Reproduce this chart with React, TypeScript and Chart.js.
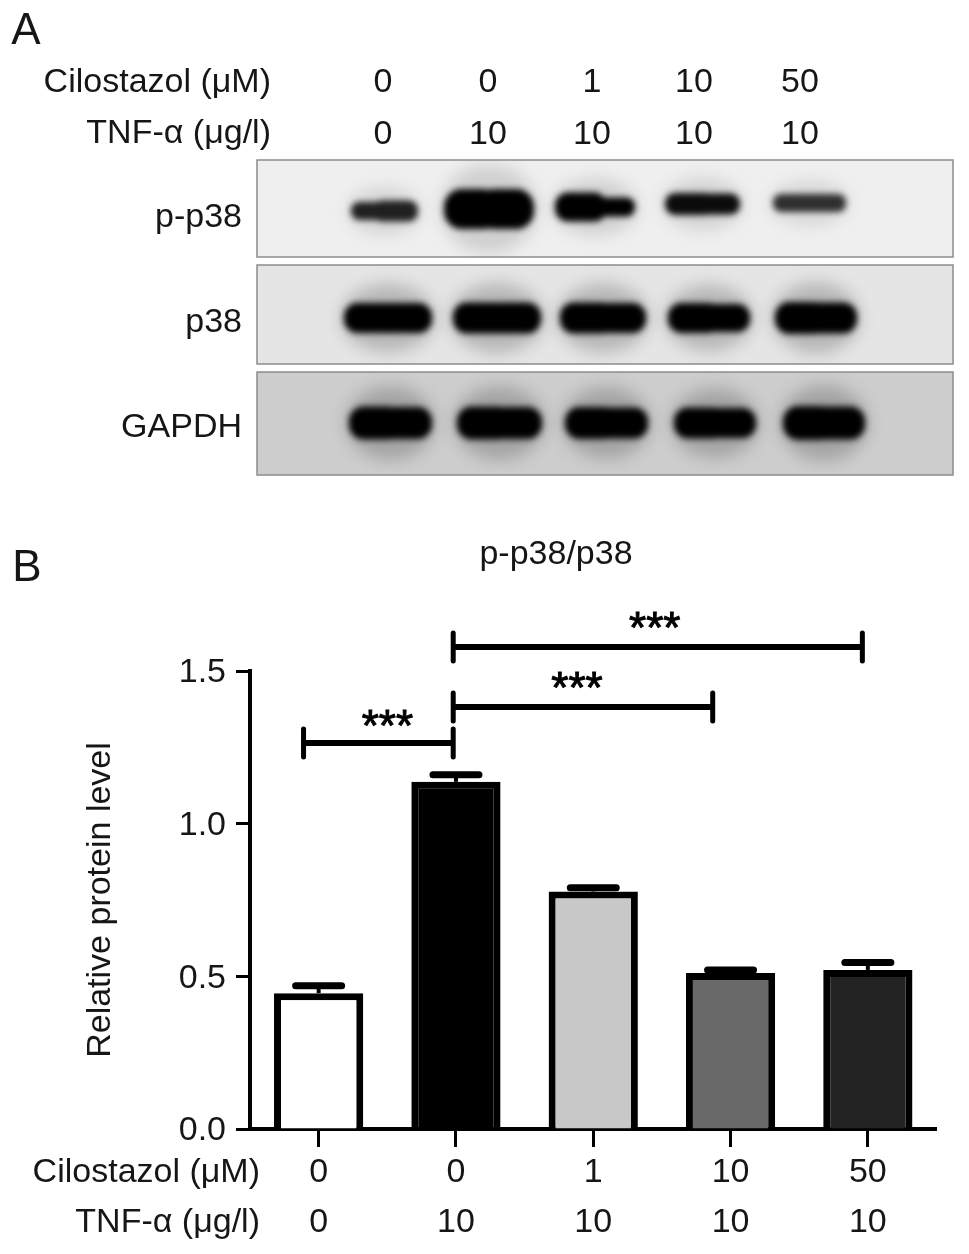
import React, { useEffect, useRef } from "react";
import { Chart, registerables } from "chart.js";

Chart.register(...registerables);

const FONT = '"Liberation Sans", Arial, sans-serif';
const INK = "#161616";
const SIZE = 34;

// Bar chart data
const cilostazol = ["0", "0", "1", "10", "50"];
const tnf = ["0", "10", "10", "10", "10"];
const means = [0.445, 1.137, 0.778, 0.511, 0.521];
const errors = [0.024, 0.023, 0.012, 0.01, 0.024];
const barColors = ["#ffffff", "#000000", "#c8c8c8", "#696969", "#222222"];
const yTicks = [0, 0.5, 1, 1.5];

// Significance brackets: from / to (category position), height (axis value)
const bracketFrom = [-0.11, 0.98, 0.98];
const bracketTo = [0.98, 2.87, 3.96];
const bracketLevel = [1.264, 1.382, 1.579];
const starShift = [9, -6, -3];
const starDrop = [-2, -4, -4];

// Blot panel contents
const blotNames = ["p-p38", "p38", "GAPDH"];
const blotBackground = ["#efefef", "#e5e5e5", "#cdcdcd"];
// band thickness at the left and right half of each lane
const bandLeft = [
  [18, 40, 29, 22, 18],
  [30, 31, 31, 30, 32],
  [33, 33, 32, 31, 34],
];
const bandRight = [
  [21, 40, 19, 21, 18],
  [30, 31, 30, 28, 31],
  [32, 32, 31, 30, 33],
];
const bandDarkness = [
  [0.85, 1, 1, 0.95, 0.78],
  [1, 1, 1, 1, 1],
  [1, 1, 1, 1, 1],
];
const haloDarkness = [0.13, 0.2, 0.2];

// Layout of panel A (not data)
const panelTop = [160, 265, 372];
const panelBottom = [257, 364, 475];
const labelDrop = [9, 8, 4];
const bandCentreY = [211, 318, 423];
const bandRise = [0, 2, 4, 7, 8];
const bandSpan = [
  [[351, 418], [444, 534], [555, 635], [665, 740], [773, 846]],
  [[344, 432], [453, 541], [560, 646], [668, 750], [775, 857]],
  [[349, 432], [457, 542], [565, 648], [674, 756], [783, 865]],
];
const headerX = [383, 488, 592, 694, 800];

const text = (
  ctx: CanvasRenderingContext2D,
  s: string,
  x: number,
  y: number,
  size: number,
  align: CanvasTextAlign = "center"
) => {
  ctx.font = `${size}px ${FONT}`;
  ctx.fillStyle = INK;
  ctx.textAlign = align;
  ctx.textBaseline = "middle";
  ctx.fillText(s, x, y);
};

const blotPlugin = {
  id: "blot",
  beforeDraw(chart: Chart) {
    const ctx = chart.ctx;
    ctx.save();
    text(ctx, "A", 26, 32, 44);
    text(ctx, "B", 27, 569, 44);
    text(ctx, "Cilostazol (μM)", 271, 83, SIZE, "right");
    text(ctx, "TNF-α (μg/l)", 271, 134, SIZE, "right");
    cilostazol.forEach((s, i) => text(ctx, s, headerX[i], 83, SIZE));
    tnf.forEach((s, i) => text(ctx, s, headerX[i], 135, SIZE));
    text(ctx, "p-p38/p38", 556, 555, SIZE);
    text(ctx, "Cilostazol (μM)", 260, 1173, SIZE, "right");
    text(ctx, "TNF-α (μg/l)", 260, 1223, SIZE, "right");

    blotNames.forEach((name, p) => {
      const top = panelTop[p];
      const h = panelBottom[p] - top;
      text(ctx, name, 242, top + h / 2 + labelDrop[p], SIZE, "right");
      ctx.save();
      ctx.beginPath();
      ctx.rect(257, top, 696, h);
      ctx.clip();
      ctx.fillStyle = blotBackground[p];
      ctx.fillRect(257, top, 696, h);
      bandSpan[p].forEach(([x0, x1], i) => {
        const cy = bandCentreY[p] - (p === 0 ? bandRise[i] : 0);
        const hl = bandLeft[p][i];
        const hr = bandRight[p][i];
        const mid = (x0 + x1) / 2;
        // halo
        ctx.filter = "blur(8px)";
        ctx.fillStyle = `rgba(0,0,0,${haloDarkness[p] * bandDarkness[p][i]})`;
        ctx.beginPath();
        ctx.ellipse(mid, cy, (x1 - x0) / 2 + 3, (hl + hr) / 2 + 4, 0, 0, Math.PI * 2);
        ctx.fill();
        // core: one path, so the two halves do not double the ink
        ctx.filter = "blur(3px)";
        ctx.fillStyle = `rgba(0,0,0,${bandDarkness[p][i]})`;
        ctx.beginPath();
        ctx.roundRect(x0, cy - hl / 2, mid - x0 + 12, hl, hl * 0.45);
        ctx.roundRect(mid - 12, cy - hr / 2, x1 - mid + 12, hr, hr * 0.45);
        ctx.fill("nonzero");
      });
      ctx.filter = "none";
      ctx.restore();
      ctx.strokeStyle = "#8c8c8c";
      ctx.lineWidth = 1.5;
      ctx.strokeRect(257, top, 696, h);
    });
    ctx.restore();
  },
  afterDatasetsDraw(chart: Chart) {
    const ctx = chart.ctx;
    const xs = chart.scales.x;
    const ys = chart.scales.y;
    ctx.save();
    ctx.strokeStyle = "#000";
    // error bars
    means.forEach((m, i) => {
      const x = xs.getPixelForValue(i);
      const yTop = ys.getPixelForValue(m + errors[i]);
      ctx.lineCap = "butt";
      ctx.lineWidth = 4;
      ctx.beginPath();
      ctx.moveTo(x, ys.getPixelForValue(m));
      ctx.lineTo(x, yTop);
      ctx.stroke();
      ctx.lineCap = "round";
      ctx.lineWidth = 7;
      ctx.beginPath();
      ctx.moveTo(x - 23, yTop);
      ctx.lineTo(x + 23, yTop);
      ctx.stroke();
    });
    // brackets
    const catPx = (v: number) => xs.getPixelForValue(0) + v * (xs.getPixelForValue(1) - xs.getPixelForValue(0));
    bracketLevel.forEach((lvl, i) => {
      const a = catPx(bracketFrom[i]);
      const b = catPx(bracketTo[i]);
      const y = ys.getPixelForValue(lvl);
      ctx.lineCap = "butt";
      ctx.lineWidth = 6;
      ctx.beginPath();
      ctx.moveTo(a, y);
      ctx.lineTo(b, y);
      ctx.stroke();
      ctx.lineCap = "round";
      ctx.lineWidth = 5;
      ctx.beginPath();
      ctx.moveTo(a, y - 14);
      ctx.lineTo(a, y + 14);
      ctx.moveTo(b, y - 14);
      ctx.lineTo(b, y + 14);
      ctx.stroke();
      ctx.font = `44px ${FONT}`;
      ctx.fillStyle = "#000";
      ctx.textAlign = "center";
      ctx.textBaseline = "alphabetic";
      ctx.lineWidth = 1;
      ctx.lineCap = "butt";
      ctx.fillText("***", (a + b) / 2 + starShift[i], y + starDrop[i]);
      ctx.strokeText("***", (a + b) / 2 + starShift[i], y + starDrop[i]);
    });
    ctx.restore();
  },
};

export default function App() {
  const ref = useRef<HTMLCanvasElement>(null);
  useEffect(() => {
    const chart = new Chart(ref.current!, {
      type: "bar",
      data: {
        labels: cilostazol.map((c, i) => [c, tnf[i]]),
        datasets: [
          {
            data: means,
            backgroundColor: barColors,
            borderColor: "#000",
            borderWidth: 7,
            barPercentage: 0.65,
            categoryPercentage: 1,
          },
        ],
      },
      options: {
        responsive: false,
        animation: false,
        layout: { padding: { top: 671, right: 32.5, left: 0, bottom: 0 } },
        plugins: { legend: { display: false }, tooltip: { enabled: false } },
        scales: {
          x: {
            afterFit: (s: any) => {
              s.height = 125;
            },
            grid: {
              offset: false,
              drawOnChartArea: false,
              tickLength: 18,
              tickWidth: 3,
              tickColor: "#000",
            },
            border: { color: "#000", width: 4 },
            ticks: {
              maxRotation: 0,
              autoSkip: false,
              color: INK,
              padding: 1,
              font: { family: FONT, size: SIZE, lineHeight: 50 / SIZE },
            },
          },
          y: {
            min: 0,
            max: 1.5,
            afterFit: (s: any) => {
              s.width = 250;
            },
            afterBuildTicks: (s: any) => {
              s.ticks = yTicks.map((value) => ({ value }));
            },
            grid: {
              drawOnChartArea: false,
              tickLength: 14,
              tickWidth: 3,
              tickColor: "#000",
            },
            border: { color: "#000", width: 4 },
            ticks: {
              color: INK,
              padding: 10,
              labelOffset: 2,
              font: { family: FONT, size: SIZE },
              callback: (v: any) => Number(v).toFixed(1),
            },
            title: {
              display: true,
              text: "Relative protein level",
              color: INK,
              padding: { top: 80, bottom: 0 },
              font: { family: FONT, size: SIZE, lineHeight: 1.2 },
            },
          },
        },
      },
      plugins: [blotPlugin],
    } as any);
    return () => chart.destroy();
  }, []);
  return (
    <div style={{ position: "absolute", left: 0, top: 0, width: 969, height: 1254, background: "#fff" }}>
      <canvas ref={ref} width={969} height={1254} style={{ display: "block" }} />
    </div>
  );
}
